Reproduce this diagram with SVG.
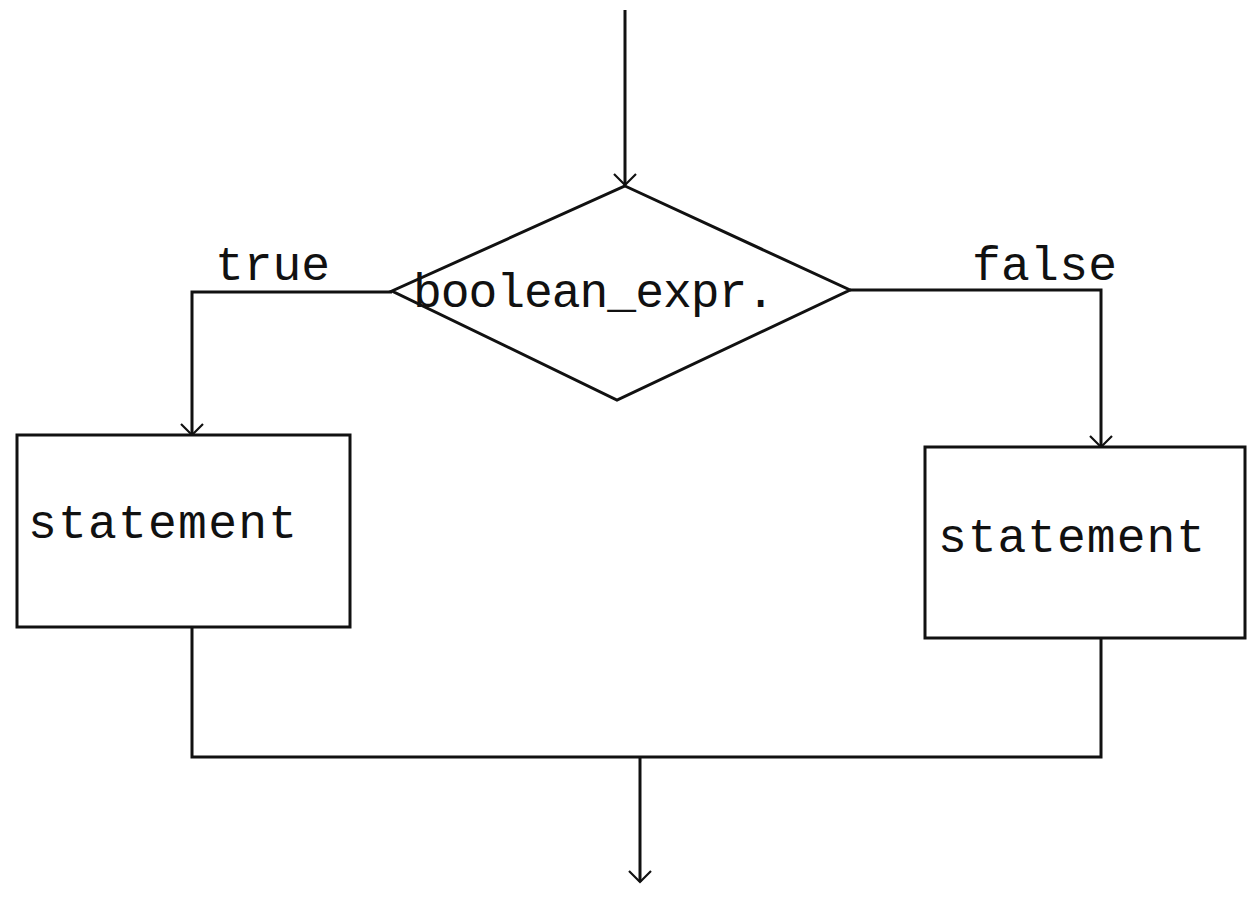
<svg xmlns="http://www.w3.org/2000/svg" width="1247" height="913" viewBox="0 0 1247 913">
<style>
.ln{fill:none;stroke:#111;stroke-width:3}
.sh{fill:#fff;stroke:#111;stroke-width:3}
.tx{font-family:"Liberation Mono","Courier New",monospace;font-size:48px;fill:#111}
</style>
<defs>
<marker id="ah" viewBox="0 0 24 24" refX="20" refY="12" markerWidth="24" markerHeight="24" markerUnits="userSpaceOnUse" orient="auto" overflow="visible">
<polyline points="9,1 20,12 9,23" fill="none" stroke="#111" stroke-width="2.2"/>
</marker>
</defs>
<rect width="1247" height="913" fill="#fff"/>
<g id="connectors">
<path class="ln" d="M625,10 V185" marker-end="url(#ah)"/>
<path class="ln" d="M392,292 H192 V435" marker-end="url(#ah)"/>
<path class="ln" d="M850,290 H1101 V447" marker-end="url(#ah)"/>
<path class="ln" d="M192,627 V757 H1101 V638"/>
<path class="ln" d="M640,757 V882" marker-end="url(#ah)"/>
<text class="tx" x="215" y="280" textLength="115">true</text>
<text class="tx" x="972" y="280" textLength="145">false</text>
</g>
<g id="decision">
<polygon class="sh" points="625,186 850,290 617,400 392,291"/>
<text class="tx" x="413" y="307" textLength="362">boolean_expr.</text>
</g>
<g id="stmt_true">
<rect class="sh" x="17" y="435" width="333" height="192"/>
<text class="tx" x="28" y="538" textLength="269">statement</text>
</g>
<g id="stmt_false">
<rect class="sh" x="925" y="447" width="320" height="191"/>
<text class="tx" x="938" y="552" textLength="267">statement</text>
</g>
</svg>
